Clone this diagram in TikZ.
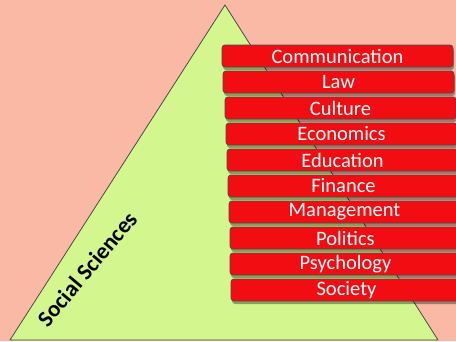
\documentclass[tikz,border=0pt]{standalone}
\usepackage{fontspec}
\setmainfont{Carlito}
\usetikzlibrary{shadows}
\definecolor{cf9b9a5}{RGB}{249,185,165}
\definecolor{cd3f78e}{RGB}{211,247,142}
\definecolor{cf20d12}{RGB}{242,13,18}
\definecolor{c4a4a4a}{RGB}{74,74,74}
\tikzset{
  field/.style={draw=c4a4a4a,fill=cf20d12,line width=0.7pt,rounded corners=3pt,
    anchor=north west,minimum width=231pt,minimum height=22pt,inner sep=0pt,
    text=white,font=\fontsize{20.5}{21}\selectfont,
    drop shadow={shadow xshift=1pt,shadow yshift=-3pt,fill=black,opacity=0.35}},
}

\begin{document}
\begin{tikzpicture}[y=1pt, x=1pt,yscale=-1, inner sep=0pt, outer sep=0pt]
  \path[fill=cf9b9a5,use as bounding box] (0,0) rectangle (456,341);
  \path[draw=c4a4a4a,fill=cd3f78e,line join=miter,line width=0.8pt]
  (225,5) coordinate (apex) -- (438,340) coordinate (right) -- (10,340) coordinate (left) -- cycle;
  \path (87,269) node[rotate=50,font=\bfseries\fontsize{23}{24}\selectfont] (social) {Social Sciences};
  \path (222,45) node[field] (communication) {Communication};
  \path (223,71) node[field] (law) {Law};
  \path (225,97) node[field] (culture) {Culture};
  \path (226,123) node[field] (economics) {Economics};
  \path (227,149) node[field] (education) {Education};
  \path (228,175) node[field] (finance) {Finance};
  \path (229,201) node[field] (management) {Management};
  \path (230,227) node[field] (politics) {Politics};
  \path (230,253) node[field] (psychology) {Psychology};
  \path (231,279) node[field] (society) {Society};
\end{tikzpicture}
\end{document}
